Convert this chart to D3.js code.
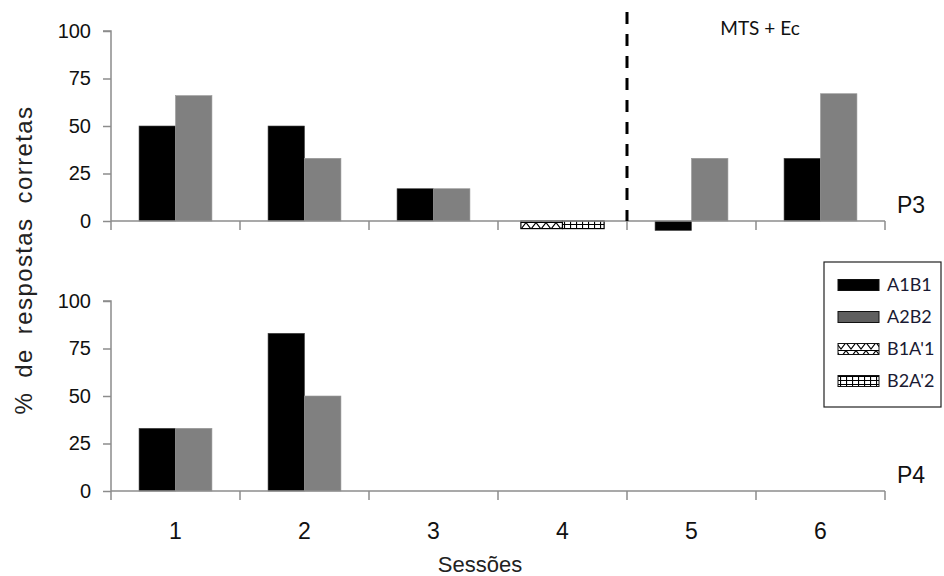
<!DOCTYPE html>
<html><head><meta charset="utf-8">
<script src="https://cdn.jsdelivr.net/npm/d3@7/dist/d3.min.js"></script>
<style>
html,body{margin:0;padding:0;background:#fff;}
svg{display:block;}
</style></head>
<body>
<svg id="chart" width="944" height="576"></svg>
<script>
// ---- data ----
const sessions = ["1", "2", "3", "4", "5", "6"];
const yTicks = [0, 25, 50, 75, 100];
const seriesNames = ["A1B1", "A2B2", "B1A'1", "B2A'2"];
// P3 (top panel)
const p3_A1B1  = [50, 50, 17, null, -5, 33];
const p3_A2B2  = [66, 33, 17, null, 33, 67];
const p3_B1A1  = [null, null, null, -4, null, null];
const p3_B2A2  = [null, null, null, -4, null, null];
// P4 (bottom panel)
const p4_A1B1  = [33, 83, null, null, null, null];
const p4_A2B2  = [33, 50, null, null, null, null];
const p4_B1A1  = [null, null, null, null, null, null];
const p4_B2A2  = [null, null, null, null, null, null];
const panelLabels = ["P3", "P4"];
const phaseLabel = "MTS + Ec";
const phaseBoundary = 4; // dashed line after session 4
const xTitle = "Sessões";
const yTitle = "% de respostas corretas";

// ---- layout ----
const svg = d3.select("#chart");
const xLeft = 111, xRight = 885;
const panels = [
  {top: 31, bottom: 221, label: panelLabels[0], labelY: 213,
   series: [p3_A1B1, p3_A2B2, p3_B1A1, p3_B2A2]},
  {top: 301, bottom: 491, label: panelLabels[1], labelY: 483,
   series: [p4_A1B1, p4_A2B2, p4_B1A1, p4_B2A2]}
];
const slotOf = [0, 1, 0, 1];
const fills = ["#000000", "#808080", "url(#patZig)", "url(#patGrid)"];

const x = d3.scaleBand().domain(sessions).range([xLeft, xRight]).padding(0);
const inner = d3.scaleBand().domain([0, 1]).range([0, x.bandwidth()]).paddingInner(0).paddingOuter(0.77);
const innerWide = d3.scaleBand().domain([0, 1]).range([0, x.bandwidth()]).paddingInner(0).paddingOuter(0.55);

// patterns
const defs = svg.append("defs");
const pz = defs.append("pattern").attr("id", "patZig").attr("patternUnits", "userSpaceOnUse")
  .attr("width", 10).attr("height", 8).attr("x", 526).attr("y", 222);
pz.append("rect").attr("width", 10).attr("height", 8).attr("fill", "#fff");
pz.append("path").attr("d", "M0,0.5 L5,7 L10,0.5 M0,0.5 L10,0.5").attr("stroke", "#000").attr("stroke-width", 1.2).attr("fill", "none");
const pg = defs.append("pattern").attr("id", "patGrid").attr("patternUnits", "userSpaceOnUse")
  .attr("width", 6).attr("height", 4);
pg.append("rect").attr("width", 6).attr("height", 4).attr("fill", "#fff");
pg.append("path").attr("d", "M0.5,0 L0.5,4 M0,0.5 L6,0.5").attr("stroke", "#000").attr("stroke-width", 1.2).attr("fill", "none");

const axisColor = "#8c8c8c";

panels.forEach((p, pi) => {
  const y = d3.scaleLinear().domain([0, 100]).range([p.bottom, p.top]);
  const g = svg.append("g");

  // bars
  p.series.forEach((vals, si) => {
    const sc = si >= 2 ? innerWide : inner;
    g.selectAll(null).data(vals.map((v, i) => ({v, s: sessions[i]})).filter(d => d.v !== null))
      .enter().append("rect")
      .attr("x", d => x(d.s) + sc(slotOf[si]))
      .attr("width", sc.bandwidth())
      .attr("y", d => y(Math.max(0, d.v)))
      .attr("height", d => Math.abs(y(d.v) - y(0)))
      .attr("fill", fills[si])
      .attr("stroke", si >= 2 ? "#000" : (si === 0 ? "#444" : "#9a9a9a"))
      .attr("stroke-width", si >= 2 ? 1.2 : 0.6);
  });

  // y axis
  const ya = g.append("g").attr("transform", `translate(${xLeft},0)`)
    .call(d3.axisLeft(y).tickValues(yTicks).tickSize(8).tickPadding(12));
  ya.select(".domain").attr("stroke", axisColor).attr("stroke-width", 1.5).attr("d", `M-8,${p.top}H0V${p.bottom}`);
  ya.selectAll(".tick line").attr("stroke", axisColor).attr("stroke-width", 1.5);
  ya.selectAll(".tick text").attr("font-family", "Liberation Sans, Arial, sans-serif")
    .attr("font-size", 20).attr("fill", "#111");

  // x axis (ticks at band boundaries)
  const xa = g.append("g").attr("transform", `translate(0,${p.bottom})`);
  xa.append("line").attr("x1", xLeft).attr("x2", xRight).attr("y1", 0).attr("y2", 0)
    .attr("stroke", axisColor).attr("stroke-width", 1.5);
  const bounds = sessions.map(s => x(s)).concat([xRight]);
  xa.selectAll(null).data(bounds).enter().append("line")
    .attr("x1", d => d).attr("x2", d => d).attr("y1", 0).attr("y2", 9)
    .attr("stroke", axisColor).attr("stroke-width", 1.5);

  if (pi === 1) {
    xa.selectAll(null).data(sessions).enter().append("text")
      .attr("x", d => x(d) + x.bandwidth() / 2).attr("y", 48)
      .attr("text-anchor", "middle")
      .attr("font-family", "Liberation Sans, Arial, sans-serif").attr("font-size", 23).attr("fill", "#111")
      .text(d => d);
  }

  // panel label
  svg.append("text").attr("x", 897).attr("y", p.labelY)
    .attr("font-family", "Liberation Sans, Arial, sans-serif").attr("font-size", 23).attr("fill", "#111")
    .text(p.label);
});

// dashed phase line
const xb = x(sessions[phaseBoundary]);
svg.append("line").attr("x1", xb).attr("x2", xb).attr("y1", 12).attr("y2", 221)
  .attr("stroke", "#000").attr("stroke-width", 3).attr("stroke-dasharray", "12,10");
svg.append("text").attr("x", 760).attr("y", 35).attr("text-anchor", "middle")
  .attr("font-family", "Lato, sans-serif").attr("font-size", 19).attr("fill", "#111").text(phaseLabel);

// axis titles
svg.append("text").attr("x", 480).attr("y", 572).attr("text-anchor", "middle")
  .attr("font-family", "Liberation Sans, Arial, sans-serif").attr("font-size", 22).attr("fill", "#222")
  .text(xTitle);
svg.append("text").attr("transform", "translate(32,260) rotate(-90)").attr("text-anchor", "middle")
  .attr("font-family", "Liberation Sans, Arial, sans-serif").attr("font-size", 24).attr("fill", "#222")
  .attr("word-spacing", 6).attr("letter-spacing", 1.4)
  .text(yTitle);

// legend
const lg = svg.append("g");
lg.append("rect").attr("x", 824).attr("y", 262).attr("width", 117).attr("height", 145)
  .attr("fill", "#fff").attr("stroke", "#222").attr("stroke-width", 1.2);
const legFill = ["#000", "#5f5f5f", "url(#patZig)", "url(#patGrid)"];
const ly = d3.scalePoint().domain(seriesNames).range([285, 381]);
seriesNames.forEach((n, i) => {
  lg.append("rect").attr("x", 838).attr("y", ly(n) - 5.5).attr("width", 41).attr("height", 11)
    .attr("fill", legFill[i]).attr("stroke", "#111").attr("stroke-width", 1);
  lg.append("text").attr("x", 887).attr("y", ly(n)).attr("dy", "0.36em")
    .attr("font-family", "Lato, sans-serif").attr("font-size", 18).attr("fill", "#1a1a33").text(n);
});
</script>
</body></html>
